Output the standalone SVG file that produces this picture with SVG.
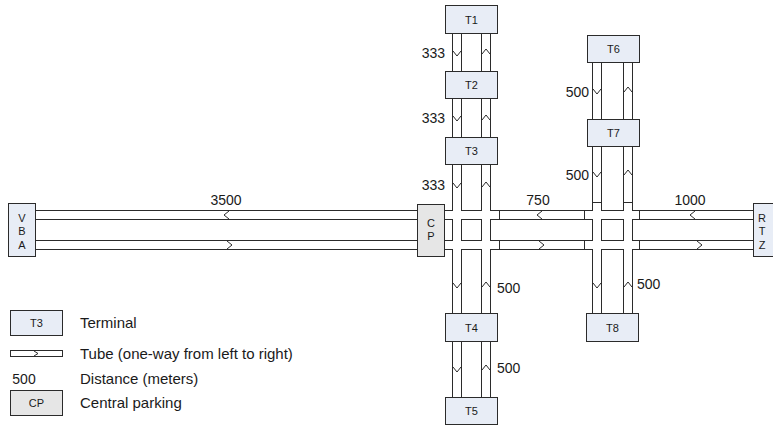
<svg xmlns="http://www.w3.org/2000/svg" width="773" height="425" viewBox="0 0 773 425">
<style>
.tb{fill:none;stroke:#2b2b2b;stroke-width:10}
.tw{fill:none;stroke:#ffffff;stroke-width:8}
.ln{fill:none;stroke:#2b2b2b;stroke-width:1}
.term{fill:#e8edf6;stroke:#2b2b2b;stroke-width:1}
.cp{fill:#e6e6e6;stroke:#2b2b2b;stroke-width:1}
.bt{font-family:"Liberation Sans",Arial,sans-serif;font-size:11px;fill:#1a1a1a;text-anchor:middle}
.lb{font-family:"Liberation Sans",Arial,sans-serif;font-size:14px;fill:#1a1a1a}
.lg{font-family:"Liberation Sans",Arial,sans-serif;font-size:15px;fill:#1a1a1a}
</style>
<rect width="773" height="425" fill="#ffffff"/>
<g id="connectors">
  <path class="tb" d="M21 215H780M21 245H780M457 19V410M486 19V410M597 48V327M628 48V327"/>
  <path class="tw" d="M21 215H780M21 245H780M457 19V410M486 19V410M597 48V327M628 48V327"/>
  <path class="ln" d="M499.5 210.5V219.5M499.5 240.5V249.5M584.5 210.5V219.5M584.5 240.5V249.5M639.5 210.5V219.5M639.5 240.5V249.5M592.5 202.5H601.5M623.5 202.5H632.5"/>
  <path class="ln" d="M229 211L224 215L229 219M542 211L537 215L542 219M695 211L690 215L695 219"/>
  <path class="ln" d="M227 241L232 245L227 249M539 241L544 245L539 249M697 241L702 245L697 249"/>
  <path class="ln" d="M453 51L457 56L461 51M453 116L457 121L461 116M453 183L457 188L461 183M453 283L457 288L461 283M453 367L457 372L461 367"/>
  <path class="ln" d="M593 89L597 94L601 89M593 172L597 177L601 172M593 283L597 288L601 283"/>
  <path class="ln" d="M482 54L486 49L490 54M482 120L486 115L490 120M482 187L486 182L490 187M482 287L486 282L490 287M482 370L486 365L490 370"/>
  <path class="ln" d="M624 92L628 87L632 92M624 175L628 170L632 175M624 287L628 282L632 287"/>
  <text class="lb" x="445" y="58" text-anchor="end">333</text>
  <text class="lb" x="445" y="123" text-anchor="end">333</text>
  <text class="lb" x="445" y="190" text-anchor="end">333</text>
  <text class="lb" x="589" y="97" text-anchor="end">500</text>
  <text class="lb" x="589" y="180" text-anchor="end">500</text>
  <text class="lb" x="226" y="205" text-anchor="middle">3500</text>
  <text class="lb" x="538" y="205" text-anchor="middle">750</text>
  <text class="lb" x="690" y="205" text-anchor="middle">1000</text>
  <text class="lb" x="497" y="293">500</text>
  <text class="lb" x="497" y="373">500</text>
  <text class="lb" x="637" y="289">500</text>
</g>
<g id="T1"><rect class="term" x="445.5" y="5.5" width="52" height="28"/><text class="bt" x="471.5" y="23.5">T1</text></g>
<g id="T2"><rect class="term" x="445.5" y="71.5" width="52" height="27"/><text class="bt" x="471.5" y="89">T2</text></g>
<g id="T3"><rect class="term" x="445.5" y="137.5" width="52" height="27"/><text class="bt" x="471.5" y="155">T3</text></g>
<g id="T4"><rect class="term" x="445.5" y="313.5" width="52" height="28"/><text class="bt" x="471.5" y="331.5">T4</text></g>
<g id="T5"><rect class="term" x="445.5" y="397.5" width="52" height="27"/><text class="bt" x="471.5" y="415">T5</text></g>
<g id="T6"><rect class="term" x="587.5" y="35.5" width="52" height="27"/><text class="bt" x="613.5" y="53">T6</text></g>
<g id="T7"><rect class="term" x="587.5" y="119.5" width="52" height="27"/><text class="bt" x="613.5" y="137">T7</text></g>
<g id="T8"><rect class="term" x="586.5" y="313.5" width="52" height="28"/><text class="bt" x="612.5" y="331.5">T8</text></g>
<g id="VBA"><rect class="term" x="8.5" y="203.5" width="27" height="53"/><text class="bt" x="22" y="221.5">V</text><text class="bt" x="22" y="235">B</text><text class="bt" x="22" y="249">A</text></g>
<g id="CP"><rect class="cp" x="417.5" y="204.5" width="27" height="52"/><text class="bt" x="431" y="226.5">C</text><text class="bt" x="431" y="240">P</text></g>
<g id="RTZ"><rect class="term" x="753.5" y="203.5" width="30" height="53"/><text class="bt" x="762" y="221.5">R</text><text class="bt" x="762" y="235">T</text><text class="bt" x="762" y="249">Z</text></g>
<g id="legend">
  <rect class="term" x="10.5" y="310.5" width="52" height="25"/><text class="bt" x="36.5" y="327">T3</text>
  <text class="lg" x="80" y="328">Terminal</text>
  <rect class="ln" x="10.5" y="350.5" width="52" height="6" fill="#ffffff"/>
  <path class="ln" d="M34 351L38 353.5L34 356"/>
  <text class="lg" x="80" y="358.5">Tube (one-way from left to right)</text>
  <text class="lb" x="24" y="384" text-anchor="middle">500</text>
  <text class="lg" x="80" y="384">Distance (meters)</text>
  <rect class="cp" x="10.5" y="390.5" width="52" height="25"/><text class="bt" x="36.5" y="407">CP</text>
  <text class="lg" x="80" y="408">Central parking</text>
</g>
</svg>
